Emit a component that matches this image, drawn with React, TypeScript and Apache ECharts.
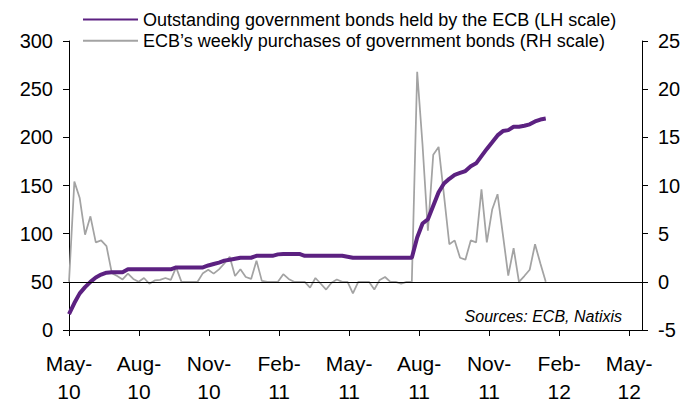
import React, { useEffect, useRef } from "react";
import * as echarts from "echarts";

// Weekly ECB purchases of government bonds (EUR bn, RH scale), from week of May 2010
const weeklyPurchases: number[] = [
  0, 10.4, 8.7, 4.9, 6.8, 4.1, 4.3, 3.7, 0.9, 0.6,
  0.25, 0.85, 0.3, 0, 0.4, -0.2, 0.15, 0.2, 0.4, 0.2,
  1.5, 0, 0, 0, 0, 0.9, 1.25, 0.85, 1.3, 1.9,
  2.6, 0.6, 1.3, 0.5, 0.3, 2.2, 0.1, 0, 0, 0,
  0.8, 0.3, 0, 0, 0, -0.6, 0.4, -0.2, -0.8, -0.1,
  0.25, 0, 0, -1.2, 0, 0, 0, -0.8, 0.2, 0.5,
  0, 0, -0.2, 0, 0, 21.8, 14.2, 5.3, 13.2, 14.0,
  9.0, 3.9, 4.3, 2.5, 2.3, 4.3, 4.1, 9.6, 4.1, 7.5,
  9.1, 4.9, 0.65, 3.5, 0, 0.6, 1.26, 3.9, 1.9, 0,
];

// Outstanding government bonds held by the ECB (EUR bn, LH scale)
const outstandingHoldings: number[] = [
  16.5, 28, 38, 44.5, 50, 54.5, 57.5, 59.5, 60, 60,
  60, 63, 63, 63, 63, 63, 63, 63, 63, 63,
  65, 65, 65, 65, 65, 65, 67, 68.5, 70, 72,
  73, 74, 75, 75, 75, 77, 77, 77, 77, 78.5,
  79, 79, 79, 79, 77, 77, 77, 77, 77, 77,
  77, 77, 76, 75, 75, 75, 75, 75, 75, 75,
  75, 75, 75, 75, 75, 96, 110.5, 115, 129, 143,
  152, 157, 161, 163, 165, 170, 173, 180.5, 188, 195,
  202, 206.5, 207.5, 211, 211, 212, 213.5, 216.5, 218.5, 219.5,
];

// X axis in months since May 2010
const xTickMonths: number[] = [0, 3, 6, 9, 12, 15, 18, 21, 24];
const xTickLabels: string[] = [
  "May-\n10", "Aug-\n10", "Nov-\n10", "Feb-\n11", "May-\n11",
  "Aug-\n11", "Nov-\n11", "Feb-\n12", "May-\n12",
];

const seriesNames = {
  holdings: "Outstanding government bonds held by the ECB (LH scale)",
  purchases: "ECB\u2019s weekly purchases of government bonds (RH scale)",
};

const PURPLE = "#5C2181";
const GREY = "#A3A3A3";
const FONT = "'Liberation Sans', Arial, sans-serif";
const WEEK_IN_MONTHS = 7 / 30.5;

export default function App() {
  const ref = useRef<HTMLDivElement>(null);

  useEffect(() => {
    if (!ref.current) return;
    const chart = echarts.init(ref.current, undefined, { renderer: "svg" });

    const holdingsData = outstandingHoldings.map((v, i) => [i * WEEK_IN_MONTHS, v]);
    const purchasesData = weeklyPurchases.map((v, i) => [i * WEEK_IN_MONTHS, v]);

    const axisLabelStyle = { color: "#000", fontSize: 20, fontFamily: FONT };
    const axisLineStyle = { lineStyle: { color: "#000", width: 1 } };

    chart.setOption({
      animation: false,
      backgroundColor: "#fff",
      textStyle: { fontFamily: FONT },
      grid: { left: 69, right: 55, top: 41, bottom: 71, containLabel: false },
      legend: {
        orient: "vertical",
        left: 82,
        top: 9,
        padding: 0,
        itemWidth: 55,
        itemHeight: 26.5,
        itemGap: 0,
        itemStyle: { opacity: 0 },
        textStyle: { color: "#000", fontSize: 18, fontFamily: FONT },
        data: [seriesNames.holdings, seriesNames.purchases],
      },
      xAxis: {
        type: "value",
        min: 0,
        max: 24.55,
        interval: 3,
        axisLine: { show: true, onZero: false, ...axisLineStyle },
        axisTick: { show: true, length: 6, customValues: xTickMonths, lineStyle: { color: "#000" } },
        axisLabel: {
          ...axisLabelStyle,
          fontSize: 21,
          margin: 19,
          lineHeight: 28,
          customValues: xTickMonths,
          formatter: (v: number) => {
            const idx = xTickMonths.indexOf(Math.round(v));
            return idx >= 0 ? xTickLabels[idx] : "";
          },
        },
        splitLine: { show: false },
      },
      yAxis: [
        {
          type: "value",
          min: 0,
          max: 300,
          interval: 50,
          position: "left",
          axisLine: { show: true, ...axisLineStyle },
          axisTick: { show: true, length: 6, lineStyle: { color: "#000" } },
          axisLabel: { ...axisLabelStyle, margin: 16 },
          splitLine: { show: false },
        },
        {
          type: "value",
          min: -5,
          max: 25,
          interval: 5,
          position: "right",
          axisLine: { show: true, ...axisLineStyle },
          axisTick: { show: true, length: 6, lineStyle: { color: "#000" } },
          axisLabel: { ...axisLabelStyle, margin: 16 },
          splitLine: { show: false },
        },
      ],
      series: [
        {
          name: seriesNames.purchases,
          type: "line",
          yAxisIndex: 1,
          data: purchasesData,
          symbol: "none",
          lineStyle: { color: GREY, width: 1.75 },
          itemStyle: { color: GREY },
          z: 2,
          markLine: {
            silent: true,
            symbol: ["none", "none"],
            label: { show: false },
            lineStyle: { color: "#000", width: 1, type: "solid" },
            data: [{ yAxis: 0 }],
          },
        },
        {
          name: seriesNames.holdings,
          type: "line",
          yAxisIndex: 0,
          data: holdingsData,
          symbol: "none",
          lineStyle: { color: PURPLE, width: 4 },
          itemStyle: { color: PURPLE },
          z: 3,
        },
      ],
      graphic: [
        {
          type: "text",
          x: 622,
          y: 316,
          style: {
            text: "Sources: ECB, Natixis",
            font: `italic 16px ${FONT}`,
            fill: "#000",
            textAlign: "right",
            textVerticalAlign: "middle",
          },
        },
      ],
    });

    return () => chart.dispose();
  }, []);

  return (
    <div
      ref={ref}
      style={{ position: "fixed", left: 0, top: 0, width: 697, height: 405, background: "#fff" }}
    />
  );
}
